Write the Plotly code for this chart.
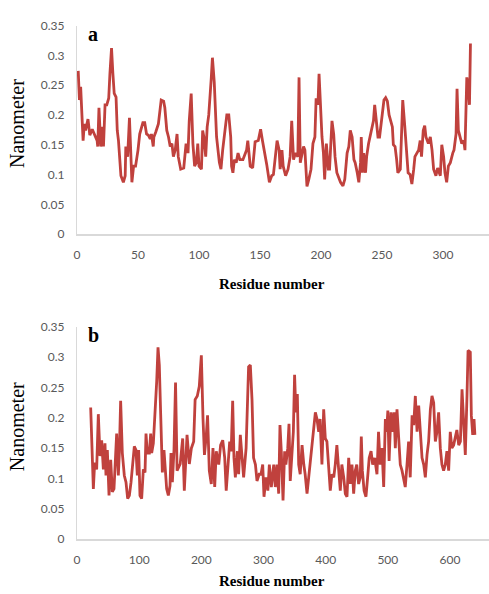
import plotly.graph_objects as go

# ---- Panel a ----
res_a = [1,2,3,4,5,6,7,9,10.5,12.5,14.5,16.5,17,18,19.5,21,21.7,23,24.4,26,27,28.3,29.4,30.5,32,33,34,35,36,38,39.5,40,41.5,43,44,45,46.4,48,50,51.4,54,55.5,57,58.5,60,61,62.5,63,64.5,66.7,69,71,72,73.6,75,76.4,77.8,79,80.5,82,83,85,87.5,89.4,91,92,93.6,95,96.4,97.8,99,100,102,103,104,105.5,106.7,108,110,111,112.5,113.3,114.4,116.7,118,119.4,121,122.8,124.4,126,126.7,127.8,129,130.5,132,133.5,
         136,139,140,142,144,146,148.6,150.5,152,153,155.5,157.7,159.6,161,162.6,164,165.7,166.5,168,169,171,173,174.7,176,177.5,179,181,182,183,184,185.7,186.8,188.5,190,191.8,193.4,195,196,197.5,198.4,199.5,200.8,202,203,204.4,206,207,208,209,210.4,211.5,213,216,218,219.5,221.4,222.8,224,225.5,227,228,229.7,231,232.4,233,234,235,236.5,237.4,239,241,243,244,245.6,246.7,248,250,251.6,253,254.4,255.8,257,258.5,259.3,260.7,262,263,265,266,267,268.7,270,271.4,273,274.5,276,277,278.6,280,281.3,282.4,283.8,285,286,288,289.6,291,292.3,294.2,295.6,297.8,299,300.5,301.6,303,304.4,306,308,309,310.7,311.5,312.6,314,315.4,317,318,319.5,320.6,321.7,322.5]
nm_a = [0.274,0.225,0.247,0.193,0.157,0.185,0.174,0.193,0.166,0.176,0.166,0.157,0.147,0.212,0.147,0.18,0.147,0.217,0.217,0.228,0.27,0.312,0.27,0.236,0.23,0.174,0.157,0.12,0.098,0.087,0.098,0.147,0.13,0.195,0.125,0.087,0.114,0.114,0.141,0.168,0.187,0.187,0.168,0.166,0.16,0.168,0.147,0.163,0.171,0.185,0.225,0.223,0.212,0.174,0.163,0.147,0.152,0.13,0.141,0.168,0.13,0.109,0.111,0.152,0.136,0.19,0.236,0.152,0.114,0.12,0.152,0.114,0.109,0.174,0.163,0.13,0.18,0.2,0.26,0.296,0.255,0.2,0.163,0.12,0.109,0.141,0.174,0.2,0.2,0.163,0.114,0.103,0.125,0.12,0.136,0.125,
        0.125,0.141,0.157,0.114,0.111,0.155,0.157,0.176,0.157,0.147,0.117,0.087,0.098,0.1,0.13,0.157,0.141,0.109,0.141,0.114,0.098,0.109,0.13,0.19,0.125,0.136,0.13,0.263,0.12,0.13,0.147,0.141,0.08,0.092,0.109,0.152,0.163,0.228,0.217,0.269,0.217,0.163,0.136,0.092,0.152,0.109,0.109,0.141,0.19,0.168,0.13,0.103,0.087,0.081,0.092,0.136,0.147,0.174,0.163,0.125,0.12,0.103,0.087,0.12,0.163,0.103,0.136,0.103,0.13,0.152,0.174,0.19,0.217,0.185,0.163,0.163,0.195,0.225,0.229,0.223,0.2,0.19,0.18,0.15,0.147,0.125,0.103,0.109,0.163,0.225,0.18,0.141,0.103,0.1,0.084,0.109,0.13,0.136,0.141,0.157,0.13,0.174,0.182,0.163,0.152,0.163,0.141,0.109,0.098,0.111,0.098,0.15,0.13,0.103,0.087,0.114,0.12,0.136,0.141,0.168,0.244,0.174,0.163,0.152,0.157,0.141,0.263,0.25,0.217,0.32]

# ---- Panel b ----
res_b = [22,24.1,26.3,28.4,31.6,34.3,37,39.7,42.4,45,46.6,48.8,51.5,54.2,56.8,59.5,61.7,63.8,66.5,68.1,70.2,72.9,76.1,78.8,81.5,84.2,86.9,89.5,92.2,94.9,97,99.2,101.3,104,106.7,109.4,111,113.1,116.4,118.5,120.1,122.8,125.5,128.2,130.3,132.4,134.6,137.3,139.9,142.1,144.2,146.9,149.6,151.2,
         153.4,156,158.5,161,166,170,172.6,177,180.7,184,187.7,190,193.5,196.7,200,202.7,205,208,210,212.8,216,218.7,221.5,224,228,231,234.4,237.6,240,243,245.6,248,250.4,252.5,254.7,258,260,262.7,265.4,268,272,276,278.8,281.5,284,287,289.5,293,296,298.7,300.8,304,307,309.4,312.6,
         316.4,319,321.7,324.4,326.5,328.6,331.4,334,336,339,341,343,345.8,348,350,352,354.4,356.6,359,362,364.8,367,370,372.7,375,378,380.7,383.4,386,388.8,391,394,396.8,399.4,402,404.8,407.4,410,413,415.4,418,421,423.5,426,429,431.6,434.3,437,439.7,442.3,445,447.6,450,453,455.6,457.3,459,461.8,464.8,467.5,470,473,475.6,478.8,
         482.5,485,487.7,490.6,493.3,496,498,500,502,505,507.7,510,512,514.7,517.4,520,522.8,525.4,528,530.8,533.4,536,539,541.6,544.2,547,549.6,552.3,555,557.7,560.3,563,565.6,568.4,571,573.7,576.4,579,581.7,584.4,587,589.7,592.4,595,597.8,600.4,603,605.8,608.5,611,614,616.7,619.3,622,624.6,627.3,629,632.6,634.3,636.5,638.6,640]
nm_b = [0.217,0.142,0.083,0.126,0.115,0.206,0.137,0.163,0.115,0.158,0.105,0.147,0.072,0.131,0.078,0.083,0.126,0.174,0.105,0.142,0.228,0.142,0.105,0.094,0.067,0.072,0.094,0.126,0.153,0.147,0.105,0.147,0.072,0.067,0.115,0.11,0.174,0.142,0.142,0.174,0.142,0.158,0.206,0.26,0.316,0.287,0.206,0.11,0.147,0.105,0.083,0.072,0.088,0.142,
        0.094,0.147,0.258,0.113,0.124,0.166,0.08,0.172,0.124,0.15,0.161,0.23,0.236,0.252,0.303,0.198,0.139,0.172,0.204,0.113,0.091,0.15,0.086,0.145,0.123,0.155,0.163,0.134,0.08,0.123,0.161,0.145,0.228,0.134,0.102,0.145,0.107,0.172,0.14,0.102,0.15,0.284,0.287,0.23,0.134,0.123,0.096,0.107,0.107,0.123,0.07,0.102,0.08,0.123,0.086,
        0.123,0.086,0.123,0.075,0.188,0.145,0.064,0.145,0.123,0.15,0.19,0.096,0.134,0.177,0.271,0.209,0.239,0.123,0.107,0.155,0.123,0.107,0.075,0.102,0.118,0.145,0.177,0.209,0.198,0.177,0.198,0.123,0.214,0.166,0.161,0.123,0.08,0.107,0.102,0.123,0.155,0.113,0.08,0.123,0.102,0.075,0.07,0.134,0.091,0.123,0.075,0.113,0.123,0.091,0.102,0.169,0.113,0.08,0.07,0.102,0.134,0.145,0.123,0.134,
        0.107,0.177,0.123,0.15,0.086,0.198,0.177,0.212,0.129,0.209,0.177,0.209,0.15,0.214,0.161,0.123,0.113,0.096,0.086,0.123,0.161,0.102,0.204,0.188,0.236,0.177,0.22,0.177,0.134,0.123,0.102,0.139,0.161,0.214,0.236,0.225,0.161,0.177,0.209,0.15,0.123,0.113,0.123,0.145,0.113,0.177,0.15,0.155,0.166,0.18,0.155,0.161,0.247,0.193,0.139,0.236,0.311,0.308,0.204,0.172,0.198,0.172]

y_ticks = [0, 0.05, 0.1, 0.15, 0.2, 0.25, 0.3, 0.35]
y_tick_text = ["0", "0.05", "0.1", "0.15", "0.2", "0.25", "0.3", "0.35"]
x_ticks_a = [0, 50, 100, 150, 200, 250, 300]
x_ticks_b = [0, 100, 200, 300, 400, 500, 600]

W, H = 489, 594
L = 77
LINE = "#C0413D"
AX = "#D9D9D9"
TICKFONT = dict(family="Lato, Open Sans, sans-serif", size=12, color="#595959")

fig = go.Figure()
fig.add_trace(go.Scatter(x=res_a, y=nm_a, mode="lines", line=dict(color=LINE, width=2.8),
                         xaxis="x", yaxis="y", showlegend=False))
fig.add_trace(go.Scatter(x=res_b, y=nm_b, mode="lines", line=dict(color=LINE, width=2.8),
                         xaxis="x2", yaxis="y2", showlegend=False))

def py(p):
    return 1 - p / H

def px(p):
    return (p - L) / (W - L)

xcommon = dict(showgrid=False, zeroline=False, showline=True, linecolor=AX, linewidth=1.5,
               ticks="outside", ticklen=9, tickcolor="rgba(0,0,0,0)", tickfont=TICKFONT)
ycommon = dict(showgrid=False, zeroline=False, showline=True, linecolor=AX, linewidth=1.2,
               range=[0, 0.35], tickvals=y_ticks, ticktext=y_tick_text,
               ticks="outside", ticklen=9, tickcolor="rgba(0,0,0,0)", tickfont=TICKFONT)

fig.update_layout(
    width=W, height=H,
    margin=dict(l=L, r=0, t=0, b=0),
    paper_bgcolor="white", plot_bgcolor="white",
    xaxis=dict(domain=[0, 1], anchor="y", range=[0, 337.7], tickvals=x_ticks_a, **xcommon),
    yaxis=dict(domain=[py(232), py(18)], anchor="x", **ycommon),
    xaxis2=dict(domain=[0, 1], anchor="y2", range=[0, 662.7], tickvals=x_ticks_b, **xcommon),
    yaxis2=dict(domain=[py(545), py(327)], anchor="x2", **ycommon),
)

serif = "Liberation Serif, Times New Roman, serif"
ann = [
    dict(text="<b>a</b>", x=px(86), y=py(13), font=dict(family=serif, size=20, color="black"),
         xanchor="left", yanchor="top"),
    dict(text="<b>b</b>", x=px(86), y=py(322), font=dict(family=serif, size=20, color="black"),
         xanchor="left", yanchor="top"),
    dict(text="Nanometer", x=px(17), y=py(119), textangle=-90, font=dict(family=serif, size=20, color="black"),
         xanchor="center", yanchor="middle"),
    dict(text="Nanometer", x=px(17), y=py(430), textangle=-90, font=dict(family=serif, size=20, color="black"),
         xanchor="center", yanchor="middle"),
    dict(text="<b>Residue number</b>", x=px(272), y=py(283), font=dict(family=serif, size=15, color="black"),
         xanchor="center", yanchor="middle"),
    dict(text="<b>Residue number</b>", x=px(272), y=py(588), font=dict(family=serif, size=15, color="black"),
         xanchor="center", yanchor="middle"),
]
for a in ann:
    a.update(xref="paper", yref="paper", showarrow=False)
fig.update_layout(annotations=ann)

fig.write_html("out.html")
